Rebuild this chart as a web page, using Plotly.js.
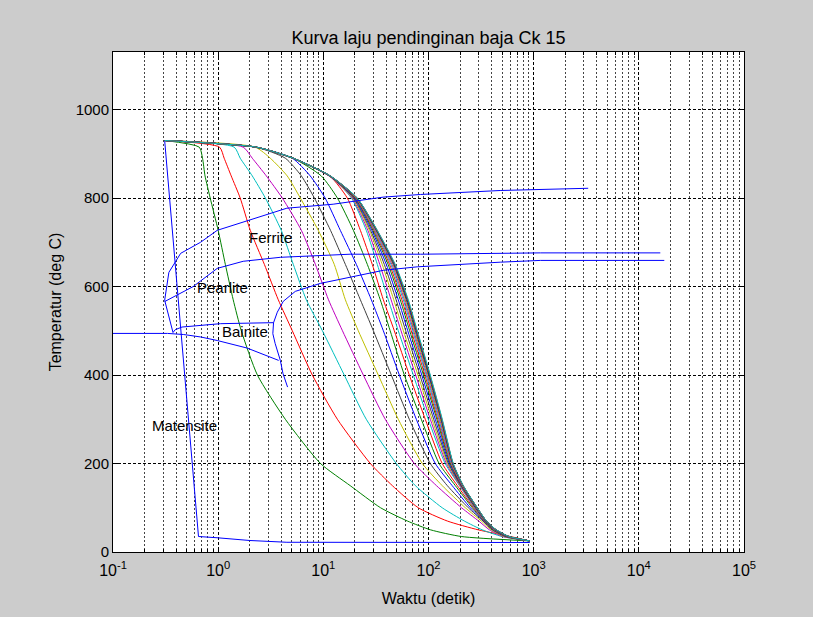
<!DOCTYPE html>
<html>
<head>
<meta charset="utf-8">
<script src="https://cdn.plot.ly/plotly-3.0.1.min.js"></script>
<style>html,body{margin:0;padding:0;background:#CCCCCC;}#chart{width:813px;height:617px;}</style>
</head>
<body>
<div id="chart"></div>
<script>
// Temperature levels (deg C) at which each cooling curve's time (s) was read
const levelTemps = [930, 915, 890, 850, 800, 727, 650, 570, 500, 400, 300, 200, 150, 100, 70, 50, 35, 25];

// Fastest cooling curve (own sampling)
const fastTime = [0.31, 0.65, 1.0, 2.0, 4.5, 18, 920];
const fastTemp = [930, 35, 32, 26, 22, 21.5, 21.5];

// Cooling curves: time (s) at each level in levelTemps
const c02 = [0.31, 0.66, 0.71, 0.75, 0.84, 1.0, 1.17, 1.39, 1.66, 2.36, 4.35, 9.4, 18, 35, 63, 105, 205, 920];
const c03 = [0.31, 1.03, 1.14, 1.33, 1.62, 2.02, 2.75, 3.73, 5.07, 7.86, 13.6, 28, 45.3, 80, 151, 298, 600, 920];
const c04 = [0.31, 1.42, 1.62, 2.11, 2.81, 3.98, 5.18, 6.89, 9.8, 15.8, 25.6, 49.4, 75, 135, 219, 325, 500, 920];
const c05 = [0.31, 1.73, 2.11, 2.87, 4.07, 6.18, 8.4, 11.2, 15.2, 24, 38.8, 73.3, 119, 206, 300, 380, 510, 920];
const c06 = [0.31, 2.25, 3.13, 4.53, 6.04, 8.95, 12.7, 16.2, 21.5, 33.3, 51.6, 87.3, 135, 224, 318, 395, 525, 920];
const c07 = [0.31, 2.28, 4.35, 6.18, 8.22, 11.7, 16.2, 22.5, 29.9, 44.3, 65.7, 104, 151, 239, 330, 405, 540, 920];
const c08 = [0.31, 2.29, 5.07, 7.5, 10.4, 14.5, 20.6, 28.6, 37.2, 52.8, 76.6, 116, 168, 250, 335, 412, 550, 920];
const c09 = [0.31, 2.29, 5.15, 9.55, 13.6, 19.3, 26.2, 34.8, 43.2, 58.9, 85.4, 126, 180, 261, 338, 416, 558, 920];
const c10 = [0.31, 2.29, 5.15, 11.5, 16.9, 22.5, 29.2, 37.2, 47.3, 65.7, 93.2, 135, 188, 267, 340, 420, 563, 920];
const c11 = [0.31, 2.29, 5.15, 11.55, 18.5, 25.6, 32.6, 41.5, 51.6, 71.7, 99.5, 144, 197, 272, 342, 424, 568, 920];
const c12 = [0.31, 2.25, 5.1, 11.3, 18.8, 26.5, 34.4, 44.1, 54.8, 75.5, 104, 148, 199, 275, 343, 426, 570, 920];
const c13 = [0.31, 2.26, 5.11, 11.35, 19.1, 27.4, 36.3, 46.7, 57.7, 79.3, 108, 151.6, 201, 277.4, 345, 428, 572, 920];
const c14 = [0.31, 2.26, 5.12, 11.4, 19.4, 28.1, 38.0, 49.2, 60.7, 82.8, 112, 154.6, 203, 279.6, 347, 430, 574, 920];
const c15 = [0.31, 2.27, 5.13, 11.44, 19.7, 28.9, 39.7, 51.6, 63.5, 86.3, 116, 157.7, 205, 281.7, 348, 432, 575, 920];
const c16 = [0.31, 2.27, 5.14, 11.48, 20.0, 29.6, 41.3, 53.9, 66.2, 89.6, 120, 160.4, 207, 283.5, 350, 434, 576, 920];
const c17 = [0.31, 2.28, 5.15, 11.5, 20.2, 30.2, 42.6, 55.8, 68.5, 92.4, 122.5, 162.6, 208, 285, 351, 436, 577, 920];
const c18 = [0.31, 2.28, 5.15, 11.53, 20.4, 30.7, 43.8, 57.6, 70.6, 94.9, 125, 164.7, 210, 286.4, 352, 437, 578, 920];
const c19 = [0.31, 2.29, 5.16, 11.56, 20.5, 31.1, 44.9, 59.1, 72.3, 97.0, 127.5, 166.5, 210.5, 287.5, 353, 438, 579, 920];
const c20 = [0.31, 2.29, 5.16, 11.58, 20.7, 31.5, 45.8, 60.4, 73.7, 98.7, 129.4, 168, 211.4, 288.5, 354, 439, 580, 920];
const c21 = [0.31, 2.29, 5.17, 11.6, 20.8, 31.8, 46.5, 61.5, 75.0, 100.2, 131, 169, 212.3, 289.2, 354.5, 440, 580.5, 920];
const c22 = [0.31, 2.3, 5.17, 11.62, 20.9, 32.1, 47.1, 62.4, 76.2, 101.5, 132.6, 170, 212.8, 289.9, 355, 440.5, 581, 920];
const c23 = [0.31, 2.3, 5.18, 11.63, 20.9, 32.3, 47.6, 63.1, 76.9, 102.4, 133.5, 171, 213.3, 290.4, 355.3, 441, 581.5, 920];
const c24 = [0.31, 2.3, 5.18, 11.64, 21.0, 32.5, 47.9, 63.7, 77.5, 103.3, 134.3, 171.3, 213.7, 290.7, 355.6, 441.5, 582, 920];
const c25 = [0.31, 2.3, 5.18, 11.65, 21.0, 32.6, 48.3, 64.3, 78.3, 104, 135.3, 172, 214.2, 291.1, 356, 442, 583, 920];

// Transformation boundary lines (CCT diagram)
const ferriteTime = [0.31, 0.34, 0.44, 0.68, 0.98, 2.0, 4.5, 12.4, 37, 84, 480, 3300];
const ferriteTemp = [569, 632, 675, 700, 727, 750, 777, 786, 802, 808, 817, 822];
const pearliteStartTime = [0.31, 0.44, 0.58, 0.98, 1.73, 3.9, 18, 84, 1160, 16000];
const pearliteStartTemp = [566, 585, 600, 641, 657, 666, 673, 673, 676, 676];
const bainiteStartTime = [0.31, 0.351, 0.372, 0.391, 0.453, 1.048, 3.36];
const bainiteStartTemp = [569, 519, 496, 502.5, 508.4, 516, 518.3];
const pearliteEndTime = [17460, 1156, 482, 200, 78.3, 37.2, 18, 9.36, 5.41, 4.16, 3.65, 3.36, 3.31, 3.48, 3.9, 4.13, 4.57];
const pearliteEndTemp = [659, 659, 655, 650, 644.5, 636.6, 621, 607, 589, 566.5, 542, 518, 493.4, 471.5, 433, 403.7, 372.7];
const bainiteEndTime = [0.1, 0.2, 0.33, 0.47, 0.68, 0.98, 1.88, 3.76];
const bainiteEndTemp = [494, 494, 494, 491.5, 486, 478, 461, 433];

const phaseNames = ['Ferrite', 'Pearlite', 'Bainite', 'Matensite'];
const phaseTime = [1.88, 0.6, 1.05, 0.223];
const phaseTemp = [710, 598, 499, 287];

const xTickVals = [0.1, 1, 10, 100, 1000, 10000, 100000];
const xTickText = ['10<sup>-1</sup>', '10<sup>0</sup>', '10<sup>1</sup>', '10<sup>2</sup>', '10<sup>3</sup>', '10<sup>4</sup>', '10<sup>5</sup>'];
const yTickVals = [0, 200, 400, 600, 800, 1000];

const colorOrder = ['#0000FF', '#008000', '#FF0000', '#00BFBF', '#BF00BF', '#BFBF00', '#404040'];
const curves = [c02, c03, c04, c05, c06, c07, c08, c09, c10, c11, c12, c13, c14, c15, c16, c17, c18, c19, c20, c21, c22, c23, c24, c25];

const traces = [];
traces.push({x: fastTime, y: fastTemp, type: 'scatter', mode: 'lines', line: {color: colorOrder[0], width: 1}, hoverinfo: 'skip'});
curves.forEach(function (c, i) {
  traces.push({x: c, y: levelTemps, type: 'scatter', mode: 'lines',
    line: {color: colorOrder[(i + 1) % 7], width: 1, shape: 'spline', smoothing: 0.6}, hoverinfo: 'skip'});
});
[[ferriteTime, ferriteTemp], [pearliteStartTime, pearliteStartTemp], [bainiteStartTime, bainiteStartTemp],
 [pearliteEndTime, pearliteEndTemp], [bainiteEndTime, bainiteEndTemp]].forEach(function (p) {
  traces.push({x: p[0], y: p[1], type: 'scatter', mode: 'lines', line: {color: '#0000FF', width: 1}, hoverinfo: 'skip'});
});

// minor tick positions for log axis (2..9 in each decade)
const minorVals = [];
for (let d = -1; d < 5; d++) { for (let m = 2; m <= 9; m++) { minorVals.push(m * Math.pow(10, d)); } }

const fontFam = 'Liberation Sans, Arial, sans-serif';
const annotations = phaseNames.map(function (n, i) {
  return {x: Math.log10(phaseTime[i]), y: phaseTemp[i], xref: 'x', yref: 'y', text: n, showarrow: false,
    xanchor: 'left', yanchor: 'middle', font: {family: fontFam, size: 15, color: '#000'}};
});

const layout = {
  width: 813, height: 617,
  paper_bgcolor: '#CCCCCC', plot_bgcolor: '#FFFFFF',
  margin: {l: 113, r: 69, t: 52, b: 65},
  showlegend: false,
  font: {family: fontFam, size: 15, color: '#000'},
  title: {text: 'Kurva laju pendinginan baja Ck 15', x: 0.5, xref: 'paper', xanchor: 'center',
    y: 1 - 38 / 617, yref: 'container', yanchor: 'middle', font: {family: fontFam, size: 18, color: '#000'}},
  xaxis: {
    type: 'log', range: [-1, 5],
    tickmode: 'array', tickvals: xTickVals, ticktext: xTickText,
    ticks: 'inside', ticklen: 5, tickcolor: '#000', ticklabelstandoff: 4,
    showline: true, linecolor: '#000', linewidth: 1, mirror: 'ticks',
    showgrid: true, gridcolor: '#000', gridwidth: 1, griddash: '3px,2px',
    minor: {tickmode: 'array', tickvals: minorVals, ticks: 'inside', ticklen: 3, tickcolor: '#000',
      showgrid: true, gridcolor: '#444', gridwidth: 1, griddash: '2px,2px'},
    zeroline: false,
    tickfont: {family: fontFam, size: 16, color: '#000'},
    title: {text: 'Waktu (detik)', font: {family: fontFam, size: 16, color: '#000'}, standoff: 14}
  },
  yaxis: {
    range: [0, 1130],
    tickmode: 'array', tickvals: yTickVals,
    ticks: 'inside', ticklen: 5, tickcolor: '#000',
    showline: true, linecolor: '#000', linewidth: 1, mirror: 'ticks',
    showgrid: true, gridcolor: '#000', gridwidth: 1, griddash: '3px,2px',
    zeroline: false,
    tickfont: {family: fontFam, size: 15, color: '#000'},
    title: {text: 'Temperatur (deg C)', font: {family: fontFam, size: 16, color: '#000'}, standoff: 10}
  },
  annotations: annotations
};

Plotly.newPlot('chart', traces, layout, {staticPlot: true, displayModeBar: false});
</script>
</body>
</html>
